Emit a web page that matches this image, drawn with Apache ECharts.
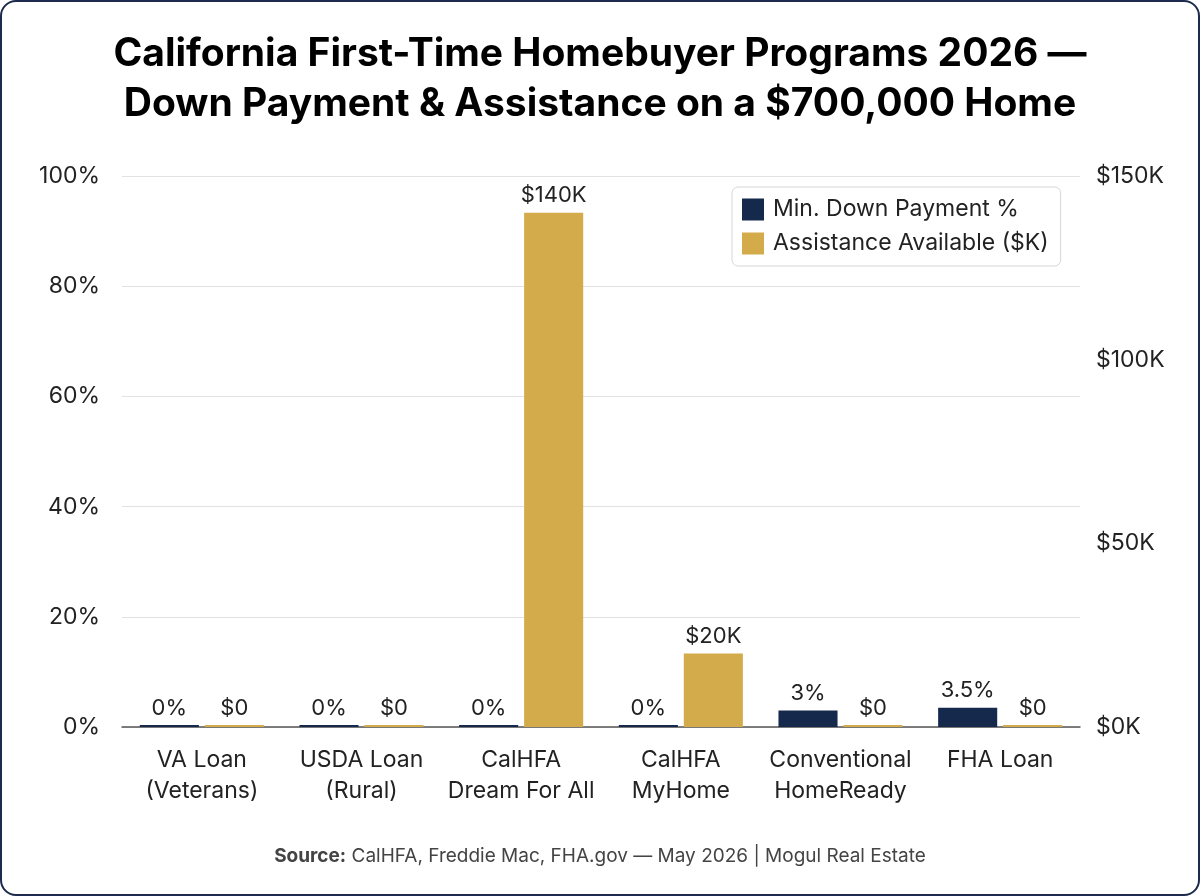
<!DOCTYPE html>
<html>
<head>
<meta charset="utf-8">
<script src="https://cdn.jsdelivr.net/npm/echarts@6/dist/echarts.min.js"></script>
<style>
  html, body { margin: 0; padding: 0; background: #fff; }
  #frame {
    width: 1200px; height: 896px; box-sizing: border-box;
    border: 2px solid #1c2b4d; border-radius: 16px; overflow: hidden; background: #fff;
  }
  #chart { width: 100%; height: 100%; }
</style>
</head>
<body>
<div id="frame"><div id="chart"></div></div>
<script>
// 项目分类
const programs = ['VA Loan\n(Veterans)', 'USDA Loan\n(Rural)', 'CalHFA\nDream For All', 'CalHFA\nMyHome', 'Conventional\nHomeReady', 'FHA Loan']
// 最低首付 (%)
const downPayment = [0, 0, 0, 0, 3, 3.5]
// 援助金额 ($K)
const assistance = [0, 0, 140, 20, 0, 0]
const pctTicks = [0, 20, 40, 60, 80, 100]
const usdTicks = [0, 50, 100, 150]

const navy = '#15294d'
const gold = '#d4ab4b'
const font = 'Inter, "Noto Sans", sans-serif'

const chart = echarts.init(document.getElementById('chart'))

const option = {
  textStyle: { fontFamily: font },
  title: {
    text: 'California First-Time Homebuyer Programs 2026 —\nDown Payment & Assistance on a $700,000 Home',
    left: 'center',
    top: 22,
    textStyle: { fontSize: 39, fontWeight: 'bold', color: '#000', lineHeight: 50, fontFamily: font }
  },
  legend: {
    orient: 'vertical',
    left: 730,
    top: 185,
    padding: [11, 12, 11, 10],
    itemWidth: 22,
    itemHeight: 22,
    itemGap: 11,
    borderColor: '#d6d6d6',
    borderWidth: 1,
    borderRadius: 6,
    backgroundColor: '#fff',
    icon: 'rect',
    textStyle: { fontSize: 23, color: '#222', fontFamily: font, padding: [0, 0, 0, 4] },
    data: ['Min. Down Payment %', 'Assistance Available ($K)']
  },
  grid: { left: 120, right: 118, top: 174, bottom: 167 },
  xAxis: {
    type: 'category',
    data: programs,
    axisTick: { show: false },
    axisLine: { lineStyle: { color: '#555', width: 1.5 } },
    axisLabel: { fontSize: 23, color: '#222', margin: 18, lineHeight: 31, interval: 0 }
  },
  yAxis: [
    {
      type: 'value',
      min: pctTicks[0],
      max: pctTicks[pctTicks.length - 1],
      interval: 20,
      axisLabel: { fontSize: 23, color: '#222', margin: 22, formatter: '{value}%' },
      axisLine: { show: false },
      axisTick: { show: false },
      splitLine: { lineStyle: { color: '#e2e2e2', width: 1 } }
    },
    {
      type: 'value',
      min: usdTicks[0],
      max: usdTicks[usdTicks.length - 1],
      interval: 50,
      axisLabel: { fontSize: 23, color: '#222', margin: 16, formatter: '${value}K' },
      axisLine: { show: false },
      axisTick: { show: false },
      splitLine: { show: false }
    }
  ],
  series: [
    {
      name: 'Min. Down Payment %',
      type: 'bar',
      yAxisIndex: 0,
      data: downPayment,
      barWidth: '37%',
      barGap: '10%',
      barMinHeight: 2,
      itemStyle: { color: navy },
      label: {
        show: true, position: 'top', distance: 6,
        fontSize: 22, color: '#222',
        formatter: p => p.value + '%'
      }
    },
    {
      name: 'Assistance Available ($K)',
      type: 'bar',
      yAxisIndex: 1,
      data: assistance,
      barWidth: '37%',
      barMinHeight: 2,
      itemStyle: { color: gold },
      label: {
        show: true, position: 'top', distance: 6,
        fontSize: 22, color: '#222',
        formatter: p => p.value === 0 ? '$0' : '$' + p.value + 'K'
      }
    }
  ],
  graphic: [
    {
      type: 'text',
      left: 'center',
      top: 845,
      style: {
        text: '{b|Source:} CalHFA, Freddie Mac, FHA.gov — May 2026 | Mogul Real Estate',
        fontSize: 19,
        fill: '#444',
        fontFamily: font,
        rich: {
          b: { fontWeight: 'bold', fontSize: 19, fill: '#444', fontFamily: font }
        }
      }
    }
  ]
}

chart.setOption(option)
</script>
</body>
</html>
